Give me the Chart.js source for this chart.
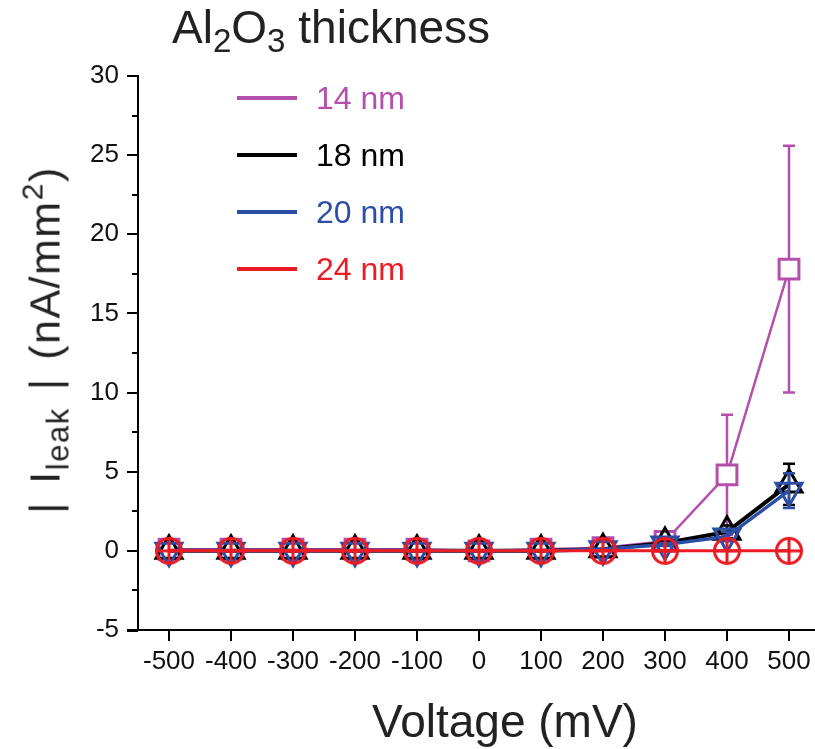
<!DOCTYPE html>
<html lang="en">
<head>
    <meta charset="UTF-8">
    <title>Leakage current vs voltage</title>
    <script src="https://cdn.jsdelivr.net/npm/chart.js"></script>
    <style>
        body {
            margin: 0;
            background: #fff;
            overflow: hidden;
            font-family: 'Liberation Sans', Arial, sans-serif;
        }
        .wrap {
            position: relative;
            width: 815px;
            height: 749px;
            overflow: hidden;
        }
        canvas { position: absolute; left: 0; top: 0; }
        .title {
            position: absolute;
            left: 172px;
            top: 0px;
            font-size: 46px;
            color: #222;
            white-space: nowrap;
        }
        .title sub, .ylabel sub { font-size: 0.72em; vertical-align: -0.28em; line-height: 0; }
        .ylabel sup { font-size: 0.7em; vertical-align: 0.55em; line-height: 0; }
        .ylabel {
            position: absolute;
            left: 45px;
            top: 340px;
            transform: translate(-50%, -50%) rotate(-90deg);
            font-size: 43px;
            color: #222;
            white-space: nowrap;
            line-height: 1;
            letter-spacing: 1.5px;
            word-spacing: 4px;
        }
        .xlabel {
            position: absolute;
            left: 505px;
            top: 698px;
            transform: translateX(-50%);
            font-size: 46px;
            color: #222;
            white-space: nowrap;
            line-height: 1;
        }
        .legend {
            position: absolute;
            left: 237px;
            top: 79px;
        }
        .legend .row {
            display: flex;
            align-items: center;
            height: 38px;
            margin-bottom: 19px;
        }
        .legend .swatch {
            width: 60px;
            height: 4px;
            margin-right: 19px;
        }
        .legend .name { font-size: 32px; }
    </style>
</head>
<body>
<div class="wrap">
    <canvas id="chart" width="822" height="749"></canvas>
    <div class="title">Al<sub>2</sub>O<sub>3</sub> thickness</div>
    <div class="ylabel">| I<sub>leak</sub> | (nA/mm<sup>2</sup>)</div>
    <div class="xlabel">Voltage (mV)</div>
    <div class="legend" id="legend"></div>
</div>

<script>
    // data
    const voltages = [-500, -400, -300, -200, -100, 0, 100, 200, 300, 400, 500];
    const seriesNames = ["14 nm", "18 nm", "20 nm", "24 nm"];
    const seriesColors = ["#b54fac", "#000000", "#2b4fa6", "#ec1c24"];

    const leak14 = [0.1, 0.1, 0.1, 0.1, 0.1, 0.0, 0.1, 0.2, 0.6, 4.8, 17.8];
    const err14  = [0, 0, 0, 0, 0, 0, 0, 0, 0.1, 3.8, 7.8];
    const leak18 = [0.0, 0.0, 0.0, 0.0, 0.0, 0.0, 0.0, 0.1, 0.5, 1.2, 4.2];
    const err18  = [0, 0, 0, 0, 0, 0, 0, 0, 0.1, 0.4, 1.3];
    const leak20 = [0.0, 0.0, 0.0, 0.0, 0.0, 0.0, 0.0, 0.1, 0.4, 0.9, 3.8];
    const err20  = [0, 0, 0, 0, 0, 0, 0, 0, 0.1, 0.3, 1.1];
    const leak24 = [0, 0, 0, 0, 0, 0, 0, 0, 0, 0, 0];
    const err24  = [0, 0, 0, 0, 0, 0, 0, 0, 0, 0, 0];

    const xTicks = [-500, -400, -300, -200, -100, 0, 100, 200, 300, 400, 500];
    const yTicks = [-5, 0, 5, 10, 15, 20, 25, 30];
    const yMinorTicks = [-2.5, 2.5, 7.5, 12.5, 17.5, 22.5, 27.5];

    const allLeak = [leak14, leak18, leak20, leak24];
    const allErr = [err14, err18, err20, err24];

    // circle with a cross, for the 24 nm series
    function circlePlus(color) {
        const c = document.createElement("canvas");
        c.width = 32; c.height = 32;
        const g = c.getContext("2d");
        g.strokeStyle = color;
        g.lineWidth = 3;
        g.beginPath();
        g.arc(16, 16, 12.5, 0, Math.PI * 2);
        g.stroke();
        g.beginPath();
        g.moveTo(4, 16); g.lineTo(28, 16);
        g.moveTo(16, 4); g.lineTo(16, 28);
        g.stroke();
        return c;
    }

    // legend
    const legendEl = document.getElementById("legend");
    seriesNames.forEach((n, i) => {
        const row = document.createElement("div");
        row.className = "row";
        row.innerHTML = '<div class="swatch" style="background:' + seriesColors[i] + '"></div>' +
            '<span class="name" style="color:' + seriesColors[i] + '">' + n + '</span>';
        legendEl.appendChild(row);
    });

    // error bars, drawn under each dataset's markers
    const errorBars = {
        id: "errorBars",
        beforeDatasetDraw(chart, args) {
            const i = args.index;
            const errs = allErr[i];
            const xs = chart.scales.x, ys = chart.scales.y;
            const ctx = chart.ctx;
            ctx.save();
            ctx.strokeStyle = seriesColors[i];
            ctx.lineWidth = 2.5;
            voltages.forEach((v, k) => {
                const e = errs[k];
                if (!e) return;
                const px = xs.getPixelForValue(v);
                const top = ys.getPixelForValue(allLeak[i][k] + e);
                const bot = ys.getPixelForValue(allLeak[i][k] - e);
                ctx.beginPath();
                ctx.moveTo(px, top); ctx.lineTo(px, bot);
                ctx.moveTo(px - 6, top); ctx.lineTo(px + 6, top);
                ctx.moveTo(px - 6, bot); ctx.lineTo(px + 6, bot);
                ctx.stroke();
            });
            ctx.restore();
        },
        afterDraw(chart) {
            // minor ticks on y and the little stub of the x axis left of the y axis
            const ys = chart.scales.y, area = chart.chartArea, ctx = chart.ctx;
            ctx.save();
            ctx.strokeStyle = "#000";
            ctx.lineWidth = 2;
            ctx.beginPath();
            yMinorTicks.forEach(v => {
                const py = Math.round(ys.getPixelForValue(v));
                ctx.moveTo(area.left - 6, py); ctx.lineTo(area.left, py);
            });
            ctx.moveTo(area.left - 11, area.bottom + 1); ctx.lineTo(area.left, area.bottom + 1);
            ctx.stroke();
            ctx.restore();
        }
    };

    const pointStyles = ["rect", "triangle", "triangle", circlePlus(seriesColors[3])];
    const pointRadii = [14, 15, 15, 14];
    const rotations = [0, 0, 180, 0];
    const lineWidths = [2.5, 4, 3.5, 3];
    const fills = ["#ffffff", "rgba(0,0,0,0)", "rgba(0,0,0,0)", "rgba(0,0,0,0)"];
    const orders = [4, 3, 2, 1];

    const datasets = seriesNames.map((n, i) => ({
        label: n,
        data: voltages.map((v, k) => ({ x: v, y: allLeak[i][k] })),
        borderColor: seriesColors[i],
        backgroundColor: seriesColors[i],
        borderWidth: lineWidths[i],
        pointStyle: pointStyles[i],
        pointRadius: pointRadii[i],
        pointRotation: rotations[i],
        pointBorderWidth: 3,
        pointBorderColor: seriesColors[i],
        pointBackgroundColor: fills[i],
        showLine: true,
        tension: 0,
        order: orders[i]
    }));

    new Chart(document.getElementById("chart").getContext("2d"), {
        type: "scatter",
        data: { datasets: datasets },
        options: {
            responsive: false,
            animation: false,
            layout: { autoPadding: false, padding: { top: 76, right: 2, left: 0, bottom: 0 } },
            plugins: {
                legend: { display: false },
                tooltip: { enabled: false }
            },
            scales: {
                x: {
                    type: "linear",
                    min: -550,
                    max: 550,
                    afterBuildTicks: s => { s.ticks = xTicks.map(v => ({ value: v })); },
                    afterFit: s => { s.height = 119; s.paddingLeft = 0; s.paddingRight = 0; },
                    border: { color: "#000", width: 2 },
                    grid: { drawOnChartArea: false, drawTicks: true, tickLength: 11, color: "#000", lineWidth: 2 },
                    ticks: {
                        autoSkip: false,
                        maxRotation: 0,
                        padding: 5,
                        color: "#111",
                        font: { family: "'Liberation Sans', Arial, sans-serif", size: 26 }
                    }
                },
                y: {
                    min: -5,
                    max: 30,
                    afterBuildTicks: s => { s.ticks = yTicks.map(v => ({ value: v })); },
                    afterFit: s => { s.width = 138; },
                    border: { color: "#000", width: 2 },
                    grid: { drawOnChartArea: false, drawTicks: true, tickLength: 11, color: "#000", lineWidth: 2 },
                    ticks: {
                        padding: 8,
                        color: "#111",
                        font: { family: "'Liberation Sans', Arial, sans-serif", size: 26 }
                    }
                }
            }
        },
        plugins: [errorBars]
    });
</script>
</body>
</html>
